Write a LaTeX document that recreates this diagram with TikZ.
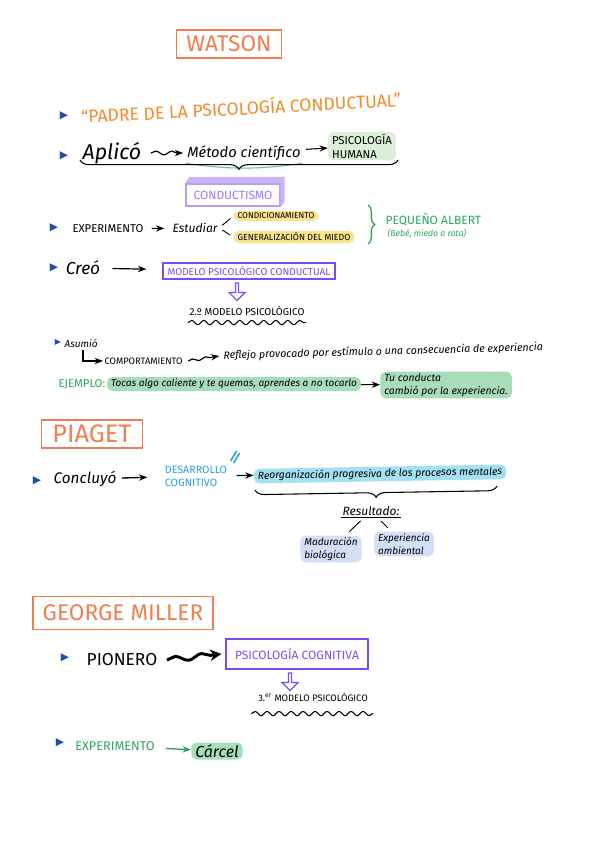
\documentclass[tikz,border=0pt]{standalone}
\usepackage{fontspec}
\setmainfont{Fira Sans}
\newfontfamily\symfont{DejaVu Sans}
\usetikzlibrary{arrows.meta,positioning,shapes.arrows,decorations.pathreplacing,decorations.pathmorphing}

\definecolor{tituloorange}{HTML}{EE7F52}
\definecolor{padreorange}{HTML}{F28C28}
\definecolor{bulletblue}{HTML}{1D4FA6}
\definecolor{lila}{HTML}{7C4DEB}
\definecolor{lilalight}{HTML}{C9B5F7}
\definecolor{verde}{HTML}{2DA55E}
\definecolor{verdehl}{HTML}{A8DDBA}
\definecolor{verdesoft}{HTML}{DCEFD9}
\definecolor{amarillohl}{HTML}{FBE28C}
\definecolor{azul}{HTML}{2F9FD8}
\definecolor{cianhl}{HTML}{A3E0F2}
\definecolor{azulsoft}{HTML}{D4DFF7}

\begin{document}
\begin{tikzpicture}[
  x=0.75pt, y=-0.75pt,
  every node/.style={inner sep=1pt},
  titlebox/.style={draw=tituloorange, line width=1.1pt, text=tituloorange,
                   font=\fontsize{17}{17}\selectfont},
  bullet/.style={text=bulletblue, font=\symfont\fontsize{8}{8}\selectfont},
  hl/.style={rounded corners=4pt, inner xsep=3pt, inner ysep=1.5pt},
  arr/.style={-{Stealth[length=2.2mm]}, line width=0.9pt},
  wavy/.style={decorate, decoration={snake, amplitude=1.4pt, segment length=12pt, post length=3pt}},
  lilabox/.style={draw=lila, line width=1pt, text=lila},
  hollow/.style={single arrow, draw=lila, line width=0.9pt, shape border rotate=270,
                 minimum height=13pt, minimum width=12pt, single arrow head extend=2pt,
                 inner sep=0pt},
  squiggle/.style={decorate, decoration={snake, amplitude=1.6pt, segment length=9pt}, line width=0.8pt},
  bracedown/.style={decorate, decoration={brace, mirror, amplitude=7pt}, line width=0.8pt}
]
\fill[white] (0,0) rectangle (600,848);
\useasboundingbox (0,0) rectangle (600,848);

% Watson
\node[titlebox, minimum width=79pt, minimum height=21pt] (watson) at (229,44) {WATSON};

\node[bullet] (b1) at (64,116) {▶};
\node[text=padreorange, font=\fontsize{13.2}{13.2}\selectfont, rotate=3] (padre) at (241,107)
  {“PADRE DE LA PSICOLOGÍA CONDUCTUAL”};

\node[bullet] (b2) at (64,156) {▶};
\node[font=\itshape\fontsize{16}{16}\selectfont] (aplico) at (112,153) {Aplicó};
\node[font=\itshape\fontsize{11}{11}\selectfont] (metodo) at (244,153) {Método científico};
\node[hl, fill=verdesoft, font=\fontsize{8.5}{10.5}\selectfont, align=left] (humana) at (362,146)
  {PSICOLOGÍA\\HUMANA};
\draw[arr, wavy] ([xshift=6pt]aplico.east) -- ([xshift=-2pt]metodo.west);
\draw[verde!70, line width=0.8pt] ([yshift=-1pt]metodo.south west) to[bend right=8] ([yshift=-1pt]metodo.south east);
\draw[arr, line width=0.8pt, shorten <=3pt] (metodo) -- (humana);
\draw[bracedown] (80,160) -- (398,160);

\node[draw=lila!55, line width=1.3pt, text=lila!75, font=\fontsize{9}{9}\selectfont,
      minimum width=70pt, minimum height=17pt] (conductismo) at (233,195) {CONDUCTISMO};
\fill[lilalight] (conductismo.north west) -- ([shift={(4,-6)}]conductismo.north west)
  -- ([shift={(4,-6)}]conductismo.north east) -- (conductismo.north east) -- cycle;
\fill[lilalight] (conductismo.north east) -- ([shift={(4,-6)}]conductismo.north east)
  -- ([shift={(4,-6)}]conductismo.south east) -- (conductismo.south east) -- cycle;

% experimento
\node[bullet] (b3) at (54,228) {▶};
\node[font=\fontsize{8.5}{8.5}\selectfont] (experimento) at (108,229) {EXPERIMENTO};
\node[font=\itshape\fontsize{9}{9}\selectfont] (estudiar) at (195,228) {Estudiar};
\draw[arr, line width=0.8pt, shorten <=5pt, shorten >=5pt] (experimento) -- (estudiar);
\node[hl, fill=amarillohl, font=\fontsize{6.3}{6.3}\selectfont] (condicionamiento) at (276,216) {CONDICIONAMIENTO};
\node[hl, fill=amarillohl, font=\fontsize{6.6}{6.6}\selectfont] (generalizacion) at (294,237) {GENERALIZACIÓN DEL MIEDO};
\draw[line width=0.7pt, shorten <=3pt, shorten >=3pt] (estudiar.east) -- (condicionamiento.west);
\draw[line width=0.7pt, shorten <=3pt, shorten >=3pt] (estudiar.east) -- (generalizacion.west);
\draw[verde, line width=1pt, decorate, decoration={brace, amplitude=5pt}] (368,205) -- (368,244);
\node[text=verde, font=\fontsize{9}{9}\selectfont, anchor=west] (albert) at (384,220) {PEQUEÑO ALBERT};
\node[text=verde, font=\itshape\fontsize{6.5}{6.5}\selectfont, anchor=west] (bebe) at (386,234) {(Bebé, miedo a rata)};

% modelo conductual
\node[bullet] (b4) at (54,268) {▶};
\node[font=\itshape\fontsize{13}{13}\selectfont] (creo) at (83,268) {Creó};
\node[lilabox, font=\fontsize{7.5}{7.5}\selectfont, minimum width=129pt, minimum height=12pt]
  (modeloconductual) at (249,271) {MODELO PSICOLÓGICO CONDUCTUAL};
\draw[arr, shorten <=8pt, shorten >=12pt] (creo) -- (modeloconductual);
\node[hollow] (flecha1) at (237,291) {};
\node[font=\fontsize{7.5}{7.5}\selectfont] (segundo) at (247,311) {2.º MODELO PSICOLÓGICO};
\draw[squiggle] ([yshift=-4pt]segundo.south west) -- ([yshift=-4pt]segundo.south east);

% asumio
\node[bullet, font=\symfont\fontsize{6}{6}\selectfont] (b5) at (58,342) {▶};
\node[font=\itshape\fontsize{7.5}{7.5}\selectfont, anchor=west] (asumio) at (63,344) {Asumió};
\node[font=\fontsize{7}{7}\selectfont, anchor=west] (comportamiento) at (103,361) {COMPORTAMIENTO};
\draw[arr, line width=1.1pt] ([xshift=15pt]asumio.south west) |- (comportamiento.west);
\node[font=\itshape\fontsize{8}{8}\selectfont, anchor=west, rotate=1.5] (reflejo) at (222,356)
  {Reflejo provocado por estímulo o una consecuencia de experiencia};
\draw[arr, wavy, decoration={amplitude=1pt, segment length=10pt}] ([xshift=3pt]comportamiento.east) -- ([xshift=-2pt]reflejo.west);

\node[text=verde, font=\fontsize{8.5}{8.5}\selectfont, anchor=west] (ejemplo) at (57,384) {EJEMPLO:};
\node[hl, fill=verdehl, font=\itshape\fontsize{7.5}{7.5}\selectfont, right=0pt of ejemplo] (tocas)
  {Tocas algo caliente y te quemas, aprendes a no tocarlo};
\node[hl, fill=verdehl, font=\itshape\fontsize{7.8}{9.5}\selectfont, align=left, anchor=west] (tuconducta) at (380,385)
  {Tu conducta\\cambió por la experiencia.};
\draw[arr, line width=0.8pt] (tocas) -- (tuconducta);

% Piaget
\node[titlebox, font=\fontsize{19}{19}\selectfont, minimum width=76pt, minimum height=21pt] (piaget) at (92,434) {PIAGET};
\node[bullet] (b6) at (37,481) {▶};
\node[font=\itshape\fontsize{11.5}{11.5}\selectfont] (concluyo) at (85,479) {Concluyó};
\node[text=azul, font=\fontsize{8}{10}\selectfont, align=left] (desarrollo) at (196,476) {DESARROLLO\\COGNITIVO};
\draw[arr, line width=1pt, shorten <=3pt, shorten >=12pt] (concluyo) -- (desarrollo);
\draw[azul, line width=1.2pt] ([shift={(2,-3)}]desarrollo.north east) -- ++(6,-10);
\draw[azul, line width=1.2pt] ([shift={(5,-1)}]desarrollo.north east) -- ++(6,-10);
\node[hl, fill=cianhl, font=\itshape\fontsize{7.8}{7.8}\selectfont, rotate=1] (reorganizacion) at (380,474)
  {Reorganización progresiva de los procesos mentales};
\draw[arr, line width=1pt, shorten <=6pt] (desarrollo) -- (reorganizacion);
\draw[bracedown] (255,490) -- (497,486);
\node[font=\itshape\fontsize{9}{9}\selectfont] (resultado) at (371,511) {Resultado:};
\draw[line width=0.8pt] (resultado.south west) -- (resultado.south east);
\node[hl, fill=azulsoft, font=\itshape\fontsize{7.5}{9.5}\selectfont, align=left] (maduracion) at (331,549)
  {Maduración\\biológica};
\node[hl, fill=azulsoft, font=\itshape\fontsize{7.5}{9.5}\selectfont, align=left] (experiencia) at (404,544)
  {Experiencia\\ambiental};
\draw[line width=0.7pt, shorten <=4pt, shorten >=4pt] (resultado) -- (maduracion);
\draw[line width=0.7pt, shorten <=4pt, shorten >=4pt] (resultado) -- (experiencia);

% George Miller
\node[titlebox, minimum width=135pt, minimum height=25pt] (miller) at (123,613) {GEORGE MILLER};
\node[bullet] (b7) at (65,658) {▶};
\node[font=\fontsize{13}{13}\selectfont] (pionero) at (122,660) {PIONERO};
\node[lilabox, line width=1.3pt, font=\fontsize{9}{9}\selectfont, minimum width=106pt, minimum height=22pt]
  (psicologiacognitiva) at (297,654) {PSICOLOGÍA COGNITIVA};
\draw[-{Stealth[length=3mm, width=3mm]}, line width=2.2pt, decorate,
      decoration={snake, amplitude=2pt, segment length=20pt, post length=5pt}]
  ([xshift=6pt]pionero.east) -- ([xshift=-3pt]psicologiacognitiva.west);
\node[hollow] (flecha2) at (290,681) {};
\node[font=\fontsize{7}{7}\selectfont] (tercero) at (313,697) {3.\textsuperscript{er} MODELO PSICOLÓGICO};
\draw[squiggle] ([xshift=-4pt, yshift=-8pt]tercero.south west) -- ([xshift=3pt, yshift=-8pt]tercero.south east);

\node[bullet] (b8) at (60,743) {▶};
\node[text=verde, font=\fontsize{9.5}{9.5}\selectfont] (experimento2) at (115,746) {EXPERIMENTO};
\node[hl, fill=verdehl, font=\itshape\fontsize{12}{12}\selectfont] (carcel) at (217,751) {Cárcel};
\draw[arr, verde, line width=1pt, shorten <=7pt] (experimento2) -- (carcel);
\end{tikzpicture}
\end{document}
